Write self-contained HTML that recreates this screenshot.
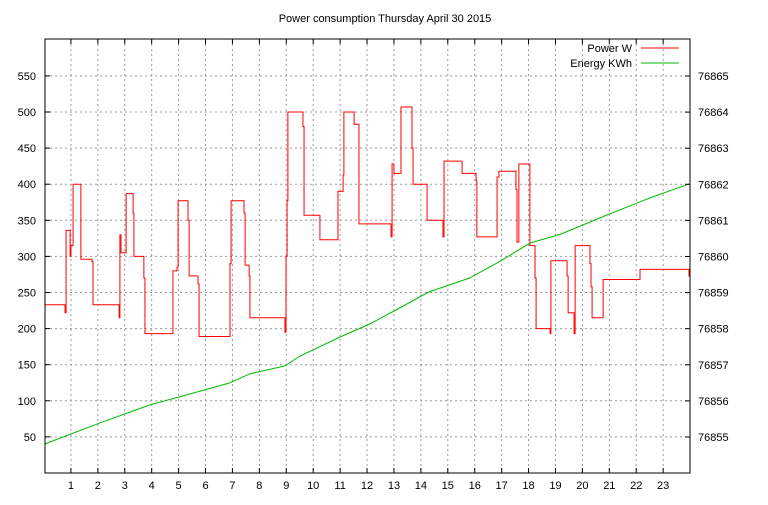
<!DOCTYPE html>
<html><head><meta charset="utf-8"><style>
body{margin:0;background:#fff}
svg text{font-family:"Liberation Sans",sans-serif;font-size:11px;fill:#000}
</style></head><body>
<svg id="chart" width="768" height="500" xmlns="http://www.w3.org/2000/svg">
<rect width="768" height="500" fill="#fff"/>
<text x="385" y="22" text-anchor="middle">Power consumption Thursday April 30 2015</text>
<g id="grid"></g><g id="series"></g><g id="axes"></g>
<g>
<text x="632" y="52" text-anchor="end">Power W</text>
<line x1="641" y1="48" x2="679" y2="48" stroke="#f00" stroke-width="1"/>
<text x="632" y="67" text-anchor="end">Energy KWh</text>
<line x1="641" y1="63" x2="679" y2="63" stroke="#0b0" stroke-width="1"/>
</g>
</svg>
<script>
const powerHours=[0.04,0.78,0.82,0.97,1.0,1.08,1.37,1.78,1.82,2.79,2.82,2.86,3.05,3.31,3.34,3.71,3.75,4.79,4.94,4.98,5.35,5.39,5.72,5.76,6.91,6.95,7.43,7.47,7.62,7.65,8.95,8.99,9.03,9.06,9.62,9.66,10.25,10.92,11.11,11.14,11.52,11.70,12.89,12.93,13.0,13.26,13.67,13.71,14.23,14.82,14.86,15.53,16.05,16.08,16.83,16.90,17.53,17.57,17.64,18.05,18.24,18.28,18.80,18.83,19.43,19.47,19.69,19.73,20.28,20.32,20.36,20.77,22.14,23.96];
const powerValues=[233,222,336,300,315,400,296,293,233,215,330,305,387,360,300,270,193,280,285,377,350,273,262,189,290,377,360,288,273,215,195,300,377,500,480,357,323,390,413,500,483,345,327,428,415,507,450,400,350,327,432,415,405,327,410,418,393,320,428,315,270,200,193,294,273,222,193,315,290,258,215,268,282,273];
const energyHours=[0.04,2.08,3.94,5.8,6.9,7.65,8.95,9.5,11.0,12.1,13.2,14.3,15.8,16.9,18.05,19.2,20.65,22.5,23.96];
const energyValues=[76854.81,76855.39,76855.89,76856.27,76856.50,76856.75,76856.97,76857.24,76857.77,76858.13,76858.57,76859.02,76859.40,76859.85,76860.37,76860.62,76861.07,76861.62,76862.01];
const xTicks=[1,2,3,4,5,6,7,8,9,10,11,12,13,14,15,16,17,18,19,20,21,22,23];
const yTicks=[50,100,150,200,250,300,350,400,450,500,550];
const y2Ticks=[76855,76856,76857,76858,76859,76860,76861,76862,76863,76864,76865];
const L=45,R=690,T=39,B=473;
const X=h=>44+h*26.92;
const Y=v=>473-v*0.722;
const Y2=v=>437-(v-76855)*36.1;
const NS="http://www.w3.org/2000/svg";
function mk(tag,parent,attrs){const e=document.createElementNS(NS,tag);for(const k in attrs)e.setAttribute(k,attrs[k]);parent.appendChild(e);return e;}
const grid=document.getElementById('grid'),axes=document.getElementById('axes'),ser=document.getElementById('series');
xTicks.forEach(t=>{const x=X(t);
 const g=mk('line',grid,{x1:x,x2:x,y1:T,y2:B,stroke:'#999','stroke-dasharray':'2,3'});
 
 
 mk('line',axes,{x1:x,x2:x,y1:B,y2:B-5,stroke:'#000'});mk('line',axes,{x1:x,x2:x,y1:T,y2:T+5,stroke:'#000'});
 const tx=mk('text',axes,{x:x,y:B+16,'text-anchor':'middle'});tx.textContent=t;
 
 
});
yTicks.forEach(t=>{const y=Y(t);
 const g=mk('line',grid,{x1:L,x2:R,y1:y,y2:y,stroke:'#999','stroke-dasharray':'2,3'});
 
 
 mk('line',axes,{x1:L,x2:L+5,y1:y,y2:y,stroke:'#000'});
 const tx=mk('text',axes,{x:L-9,y:y+4,'text-anchor':'end'});tx.textContent=t;
 
 
});
y2Ticks.forEach(t=>{const y=Y2(t);
 mk('line',axes,{x1:R,x2:R-5,y1:y,y2:y,stroke:'#000'});
 const tx=mk('text',axes,{x:R+8,y:y+4,'text-anchor':'start'});tx.textContent=t;
 
 
});
const frame=mk('rect',axes,{x:L,y:T,width:R-L,height:B-T,fill:'none',stroke:'#000'});


let d='';
powerHours.forEach((h,i)=>{const x=X(h),y=Y(powerValues[i]);
 if(i===0)d+='M'+x+','+y;else d+='H'+x+'V'+y;});
d+='H'+X(24);
const pw=mk('path',ser,{d:d,fill:'none',stroke:'#f00','stroke-width':1});


const ep=energyHours.map((h,i)=>X(h)+','+Y2(energyValues[i])).join(' ');
const en=mk('polyline',ser,{points:ep,fill:'none',stroke:'#0b0','stroke-width':1});


</script>
</body></html>
